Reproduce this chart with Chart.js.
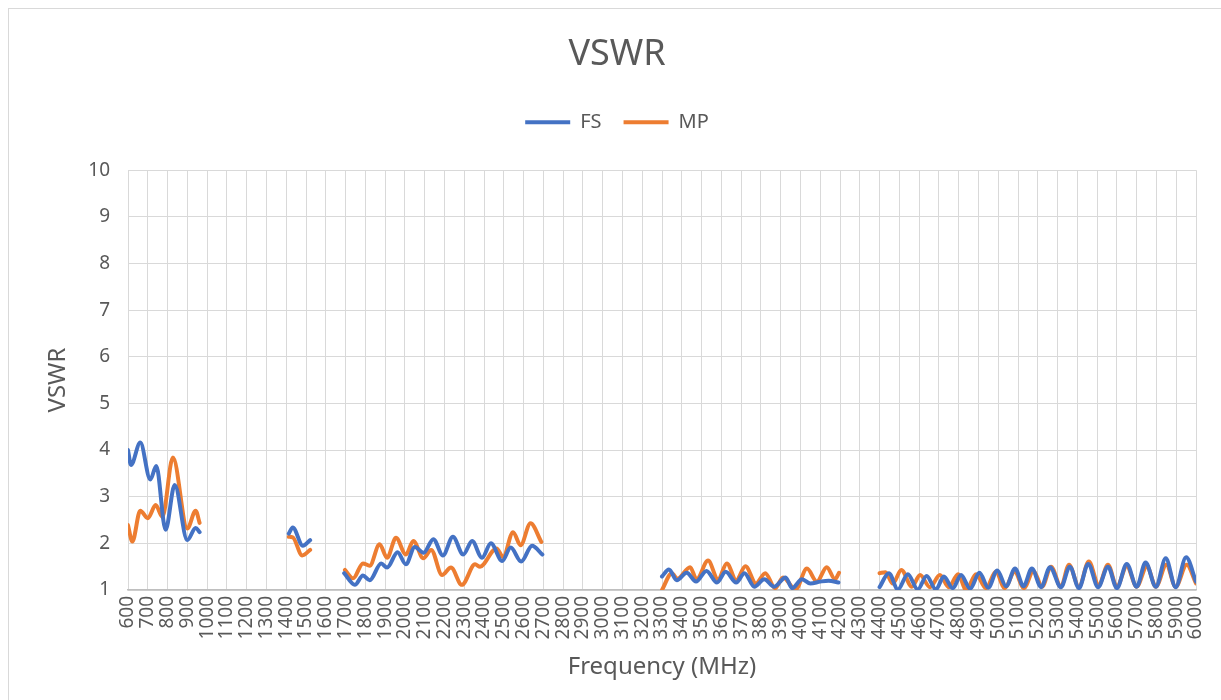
<!DOCTYPE html>
<html>
<head>
<meta charset="utf-8">
<title>VSWR</title>
<script src="https://cdn.jsdelivr.net/npm/chart.js@4.4.1/dist/chart.umd.min.js"></script>
<style>
  html, body { margin: 0; padding: 0; background: #fff; overflow: hidden; }
  #frame { position: absolute; left: 8px; top: 8px; width: 1400px; height: 900px; border: 1px solid #d9d9d9; }
  #vswr-chart { position: absolute; left: 0; top: 0; }
</style>
</head>
<body>
<div id="frame"></div>
<canvas id="vswr-chart" width="1221" height="700"></canvas>
<script>
// [freq MHz, VSWR], one array per band and series
const fsBand1 = [[600,4.00],[615,3.68],[662,4.16],[713,3.37],[743,3.66],[790,2.29],[836,3.25],[900,2.07],[942,2.33],[962,2.24]];
const mpBand1 = [[600,2.39],[622,2.04],[662,2.70],[700,2.54],[740,2.82],[774,2.57],[827,3.84],[900,2.32],[942,2.70],[962,2.44]];

const fsBand2 = [[1413,2.21],[1433,2.34],[1484,1.95],[1521,2.07]];
const mpBand2 = [[1413,2.14],[1433,2.13],[1481,1.74],[1521,1.86]];

const fsBand3 = [[1693,1.36],[1747,1.11],[1788,1.31],[1822,1.21],[1880,1.57],[1910,1.48],[1963,1.81],[2005,1.55],
  [2050,1.92],[2095,1.80],[2144,2.09],[2192,1.74],[2243,2.14],[2295,1.76],[2340,2.05],[2390,1.69],[2435,2.00],
  [2492,1.62],[2535,1.91],[2588,1.61],[2643,1.95],[2695,1.76]];
const mpBand3 = [[1697,1.43],[1738,1.25],[1788,1.57],[1822,1.52],[1872,1.98],[1910,1.69],[1955,2.12],[2005,1.76],
  [2043,2.05],[2093,1.68],[2133,1.86],[2188,1.32],[2233,1.48],[2288,1.11],[2355,1.55],[2380,1.50],[2463,1.89],
  [2497,1.71],[2547,2.24],[2585,1.96],[2635,2.43],[2690,2.03]];

const fsBand4 = [[3300,1.29],[3335,1.44],[3375,1.21],[3425,1.37],[3472,1.18],[3525,1.41],[3578,1.16],[3622,1.39],
  [3675,1.16],[3717,1.36],[3767,1.07],[3817,1.23],[3867,1.07],[3925,1.27],[3958,1.04],[4008,1.23],[4050,1.14],
  [4100,1.18],[4142,1.20],[4192,1.16]];
const mpBand4 = [[3300,1.00],[3350,1.36],[3378,1.24],[3442,1.49],[3475,1.23],[3533,1.63],[3583,1.23],[3628,1.57],
  [3675,1.21],[3722,1.51],[3775,1.14],[3822,1.36],[3872,1.04],[3912,1.27],[3975,1.01],[4033,1.46],[4083,1.18],
  [4133,1.49],[4175,1.23],[4195,1.37]];

const fsBand5 = [[4400,1.06],[4447,1.36],[4493,1.01],[4543,1.34],[4593,1.01],[4638,1.30],[4685,1.01],[4725,1.29],
  [4770,1.04],[4812,1.32],[4858,1.03],[4905,1.37],[4950,1.05],[4995,1.42],[5040,1.08],[5085,1.46],[5128,1.08],
  [5170,1.46],[5217,1.06],[5262,1.49],[5317,1.06],[5362,1.50],[5408,1.04],[5455,1.56],[5505,1.06],[5555,1.50],
  [5600,1.04],[5650,1.56],[5700,1.07],[5745,1.59],[5797,1.07],[5847,1.68],[5897,1.06],[5950,1.70],[6000,1.18]];
const mpBand5 = [[4400,1.36],[4430,1.38],[4467,1.14],[4510,1.43],[4563,1.07],[4605,1.32],[4655,1.06],[4705,1.32],
  [4750,1.06],[4797,1.34],[4838,1.00],[4888,1.34],[4938,1.04],[4988,1.39],[5033,1.04],[5083,1.39],[5130,1.04],
  [5178,1.41],[5222,1.07],[5267,1.50],[5317,1.07],[5358,1.54],[5408,1.07],[5458,1.61],[5508,1.11],[5555,1.54],
  [5600,1.07],[5650,1.51],[5700,1.07],[5752,1.51],[5797,1.07],[5850,1.54],[5897,1.07],[5953,1.54],[6000,1.14]];

const freqTicks = [600,700,800,900,1000,1100,1200,1300,1400,1500,1600,1700,1800,1900,2000,2100,2200,2300,2400,
  2500,2600,2700,2800,2900,3000,3100,3200,3300,3400,3500,3600,3700,3800,3900,4000,4100,4200,4300,4400,4500,4600,
  4700,4800,4900,5000,5100,5200,5300,5400,5500,5600,5700,5800,5900,6000];
const vswrTicks = [1,2,3,4,5,6,7,8,9,10];

const FONT = "'Noto Sans', 'DejaVu Sans', sans-serif";
const TEXT = '#595959';
const GRID = '#d9d9d9';

// bands joined with a null point so the line breaks between them
function toPoints(...bands) {
  const out = [];
  bands.forEach((band, i) => {
    band.forEach(([x, y]) => out.push({ x, y }));
    if (i < bands.length - 1) out.push({ x: band[band.length - 1][0] + 1, y: null });
  });
  return out;
}

const ctx = document.getElementById('vswr-chart').getContext('2d');
const chart = new Chart(ctx, {
  type: 'line',
  data: {
    datasets: [
      {
        label: 'FS',
        data: toPoints(fsBand1, fsBand2, fsBand3, fsBand4, fsBand5),
        borderColor: '#4472c4',
        backgroundColor: '#4472c4',
        borderWidth: 4
      },
      {
        label: 'MP',
        data: toPoints(mpBand1, mpBand2, mpBand3, mpBand4, mpBand5),
        borderColor: '#ed7d31',
        backgroundColor: '#ed7d31',
        borderWidth: 4
      }
    ]
  },
  options: {
    responsive: false,
    animation: false,
    events: [],
    layout: { padding: { top: 0, left: 38, right: 25, bottom: 0 } },
    elements: {
      point: { radius: 0 },
      line: { cubicInterpolationMode: 'monotone', borderCapStyle: 'round', borderJoinStyle: 'round' }
    },
    scales: {
      x: {
        type: 'linear',
        min: 600,
        max: 6000,
        afterBuildTicks: s => { s.ticks = freqTicks.map(v => ({ value: v })); },
        afterFit: s => { s.height = 110; s.paddingRight = 0; s.paddingLeft = 0; },
        ticks: {
          autoSkip: false, minRotation: 90, maxRotation: 90, padding: 6, color: TEXT,
          font: { family: FONT, size: 19 },
          callback: v => String(v)
        },
        grid: { color: GRID, drawTicks: false },
        border: { color: '#bfbfbf', width: 1.5 },
        title: { display: true, text: 'Frequency (MHz)', color: TEXT, font: { family: FONT, size: 24 }, padding: { top: 0, bottom: 18 } }
      },
      y: {
        min: 1,
        max: 10,
        afterBuildTicks: s => { s.ticks = vswrTicks.map(v => ({ value: v })); },
        afterFit: s => { s.width = 90; },
        ticks: { padding: 18, color: TEXT, font: { family: FONT, size: 19 } },
        grid: { color: GRID, drawTicks: false },
        border: { display: false },
        title: { display: true, text: 'VSWR', color: TEXT, font: { family: FONT, size: 24 }, padding: { top: 6, bottom: 0 } }
      }
    },
    plugins: {
      title: {
        display: true,
        text: 'VSWR',
        color: TEXT,
        font: { family: FONT, size: 36, weight: 'normal' },
        padding: { top: 33, bottom: 14 }
      },
      legend: {
        display: true,
        labels: {
          usePointStyle: true,
          pointStyle: 'line',
          pointStyleWidth: 45,
          padding: 22,
          color: TEXT,
          font: { family: FONT, size: 20 }
        }
      },
      // empty spacer between the legend and the plot
      subtitle: { display: true, text: '', weight: 500, font: { size: 10 }, padding: { top: 0, bottom: 16 } },
      tooltip: { enabled: false }
    }
  }
});
</script>
</body>
</html>
